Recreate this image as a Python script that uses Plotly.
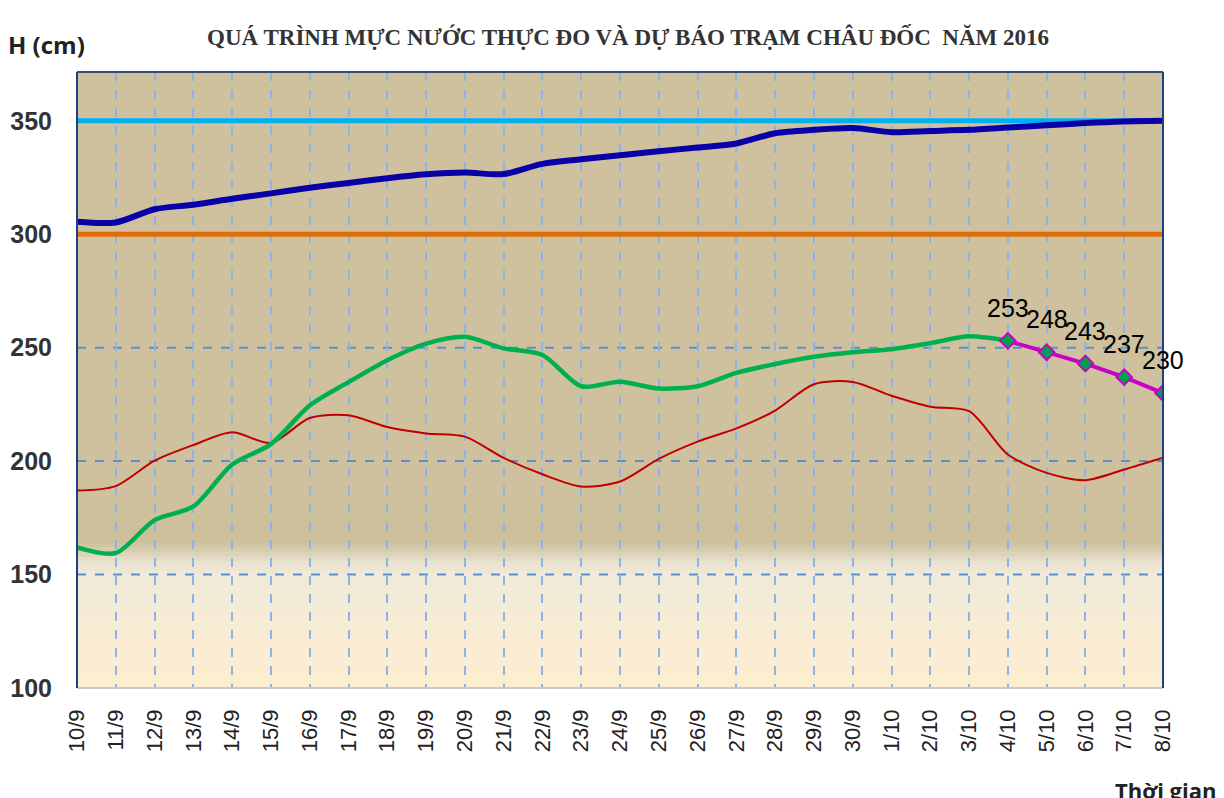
import plotly.graph_objects as go
import numpy as np

# ---------------- data ----------------
days = ["10/9", "11/9", "12/9", "13/9", "14/9", "15/9", "16/9", "17/9", "18/9", "19/9",
        "20/9", "21/9", "22/9", "23/9", "24/9", "25/9", "26/9", "27/9", "28/9", "29/9",
        "30/9", "1/10", "2/10", "3/10", "4/10", "5/10", "6/10", "7/10", "8/10"]

# measured 2016 (green)
measured_2016 = [162, 159.5, 174, 180, 198.5, 207.5, 224.5, 234.8, 244.5, 251.8,
                 254.8, 249.7, 246.8, 233, 235, 232, 233, 238.9, 242.8, 246,
                 248, 249.3, 252, 255, 253]
# forecast (magenta)
forecast_days = ["4/10", "5/10", "6/10", "7/10", "8/10"]
forecast_vals = [253, 248, 243, 237, 230]
# comparison year (red)
other_year = [187, 189, 200.2, 207.1, 212.7, 208, 219, 220.2, 215, 212.2,
              210.8, 201.4, 194.2, 188.8, 191, 201, 208.6, 214.4, 222.3, 233.9,
              234.9, 228.8, 224, 222, 202.9, 194.8, 191.6, 196.3, 201.5]
# historical high (dark blue)
max_line = [305.5, 305.2, 311, 313, 315.6, 318, 320.5, 322.6, 324.7, 326.4,
            327.2, 326.5, 331, 333, 334.8, 336.6, 338.2, 340, 344.5, 346,
            346.8, 345, 345.5, 346, 347, 348, 349, 349.7, 350]
alarm3 = [350] * len(days)
alarm2 = [300] * len(days)

y_ticks = [100, 150, 200, 250, 300, 350]

# ---------------- geometry (page body adds an 8px offset) ----------------
OFF = 8
W, H = 1224 - OFF, 798 - OFF
L, R, T, B = 77 - OFF, 1163 - OFF, 72 - OFF, 688 - OFF
YMIN, YMAX = 100, 371.5

def px_x(p):  # reference pixel -> paper x
    return (p - OFF - L) / (R - L)

def px_y(p):  # reference pixel -> paper y
    return (B - (p - OFF)) / (B - T)

fig = go.Figure()

fig.add_trace(go.Scatter(x=days, y=alarm3, mode="lines",
                         line=dict(color="#00B0F0", width=5), hoverinfo="skip"))
fig.add_trace(go.Scatter(x=days, y=alarm2, mode="lines",
                         line=dict(color="#E36C09", width=5), hoverinfo="skip"))
fig.add_trace(go.Scatter(x=days, y=max_line, mode="lines",
                         line=dict(color="#0A00A8", width=6, shape="spline", smoothing=0.8)))
fig.add_trace(go.Scatter(x=days, y=other_year, mode="lines",
                         line=dict(color="#C00000", width=2, shape="spline", smoothing=0.8)))
fig.add_trace(go.Scatter(x=days[:len(measured_2016)], y=measured_2016, mode="lines",
                         line=dict(color="#00B050", width=4.5, shape="spline", smoothing=0.8)))
fig.add_trace(go.Scatter(x=forecast_days, y=forecast_vals, mode="lines+markers",
                         line=dict(color="#C800C8", width=4),
                         marker=dict(symbol="diamond", size=12, color="#00A050",
                                     line=dict(color="#C800C8", width=2))))

for d, v in zip(forecast_days, forecast_vals):
    fig.add_annotation(x=d, y=v, text=str(v), showarrow=False, yshift=33,
                       font=dict(family="Liberation Sans, Arial", size=25, color="#000000"))

# background gradient in plot area
stops = [(100, (253, 238, 208)), (125, (248, 236, 212)), (150, (240, 234, 216)),
         (156, (232, 225, 205)), (160, (218, 206, 178)), (164, (206, 192, 157)),
         (170, (205, 191, 155)), (180, (207, 193, 158))]
shapes = []
edges = np.linspace(100, 180, 41)
vals_s = [s[0] for s in stops]
for i in range(len(edges) - 1):
    mid = 0.5 * (edges[i] + edges[i + 1])
    c = [int(round(np.interp(mid, vals_s, [s[1][k] for s in stops]))) for k in range(3)]
    shapes.append(dict(type="rect", xref="paper", yref="y", x0=0, x1=1,
                       y0=edges[i], y1=edges[i + 1] + 0.8, layer="below",
                       line=dict(width=0), fillcolor="rgb(%d,%d,%d)" % tuple(c)))

# horizontal dashed grid at 150/200/250 (drawn over background)
for g in [150, 200, 250]:
    shapes.append(dict(type="line", xref="paper", yref="y", x0=0, x1=1, y0=g, y1=g,
                       layer="below", line=dict(color="#5A8ED6", width=2, dash="dash")))

# plot frame
shapes.append(dict(type="line", xref="paper", yref="paper", x0=0, x1=1, y0=0, y1=0,
                   line=dict(color="#C8C8C8", width=2)))
shapes.append(dict(type="line", xref="paper", yref="paper", x0=0, x1=1, y0=1, y1=1,
                   line=dict(color="#2F4F7F", width=2)))
shapes.append(dict(type="line", xref="paper", yref="paper", x0=0, x1=0, y0=0, y1=1,
                   line=dict(color="#1F3F7F", width=2)))
shapes.append(dict(type="line", xref="paper", yref="paper", x0=1, x1=1, y0=0, y1=1,
                   line=dict(color="#1F3F7F", width=2)))

fig.update_layout(
    width=W, height=H,
    margin=dict(l=L, r=W - R, t=T, b=H - B, autoexpand=False),
    paper_bgcolor="white",
    plot_bgcolor="#CFC19D",
    showlegend=False,
    shapes=shapes,
    xaxis=dict(type="category", categoryorder="array", categoryarray=days,
               range=[0, len(days) - 1], tickangle=-90, ticklabelstandoff=16,
               automargin=False,
               tickfont=dict(family="Liberation Sans, Arial", size=22, color="#222222"),
               showgrid=True, gridcolor="#8DB4E2", gridwidth=2, griddash="dash",
               showline=False, zeroline=False, ticks="", ticklen=0),
    yaxis=dict(range=[YMIN, YMAX], tickvals=y_ticks, showgrid=False, zeroline=False,
               ticklabelstandoff=24, automargin=False,
               tickfont=dict(family="Liberation Sans, Arial", size=25, color="#333333",
                             weight="bold"),
               ticks="", showline=False),
)

fig.add_annotation(xref="paper", yref="paper", x=px_x(628), y=px_y(37),
                   text="QUÁ TRÌNH MỰC NƯỚC THỰC ĐO VÀ DỰ BÁO TRẠM CHÂU ĐỐC  NĂM 2016",
                   showarrow=False, xanchor="center", yanchor="middle",
                   font=dict(family="Liberation Serif, Times New Roman", size=23,
                             color="#333333", weight="bold"))
fig.add_annotation(xref="paper", yref="paper", x=px_x(6), y=px_y(44),
                   text="H (cm)", showarrow=False, xanchor="left", yanchor="middle",
                   font=dict(family="Open Sans, Liberation Sans", size=24,
                             color="#222222", weight="bold"))
fig.add_annotation(xref="paper", yref="paper", x=px_x(1113), y=px_y(790),
                   text="Thời gian", showarrow=False, xanchor="left", yanchor="middle",
                   font=dict(family="Open Sans, Liberation Sans", size=22,
                             color="#222222", weight="bold"))

fig.write_html("out.html")
